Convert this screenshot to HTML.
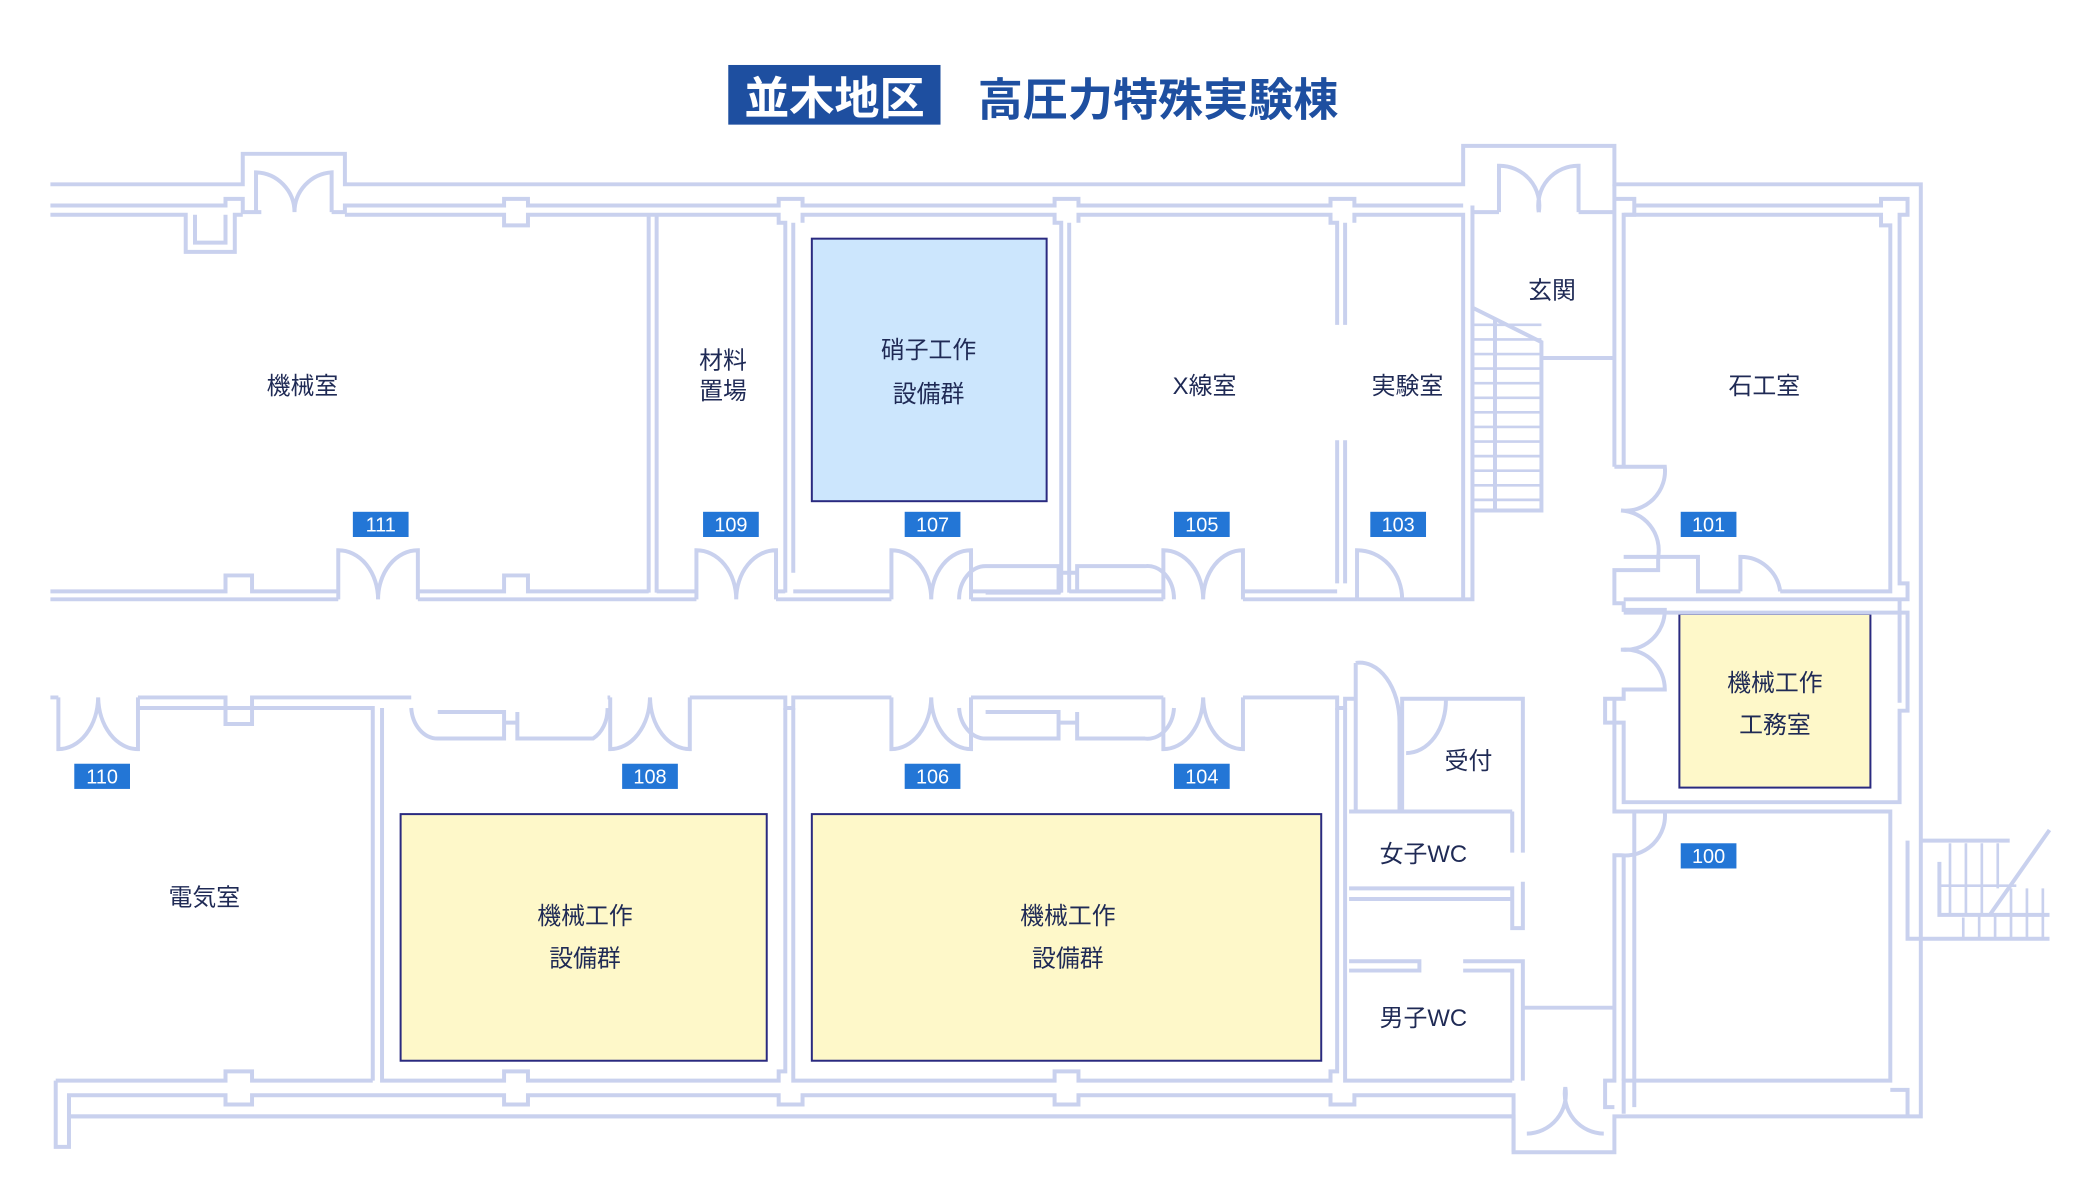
<!DOCTYPE html>
<html><head><meta charset="utf-8"><style>
html,body{margin:0;padding:0;background:#fff;}
svg{display:block}
.w{fill:none;stroke:#c9d1ee;stroke-width:3}
.t{font-family:"Liberation Sans","Noto Sans CJK JP",sans-serif;font-size:18px;fill:#1f2a55;text-anchor:middle}
.n{font-family:"Liberation Sans","Noto Sans CJK JP",sans-serif;font-size:15px;fill:#fff;text-anchor:middle}
</style></head><body>
<svg width="2080" height="1192" viewBox="0 0 1568 899" preserveAspectRatio="none" xmlns="http://www.w3.org/2000/svg">
<rect x="549" y="49" width="160" height="45" fill="#1e4fa0"/>
<text x="629" y="86" font-family="'Liberation Sans','Noto Sans CJK JP',sans-serif" font-weight="bold" font-size="34" fill="#fff" text-anchor="middle">並木地区</text>
<text x="873" y="87" font-family="'Liberation Sans','Noto Sans CJK JP',sans-serif" font-weight="bold" font-size="34" fill="#1e4fa0" text-anchor="middle">高圧力特殊実験棟</text>

<rect x="612" y="180" width="177" height="198" fill="#cce6fd" stroke="#2a2a80" stroke-width="1.5"/>
<rect x="302" y="614" width="276" height="186" fill="#fef8c9" stroke="#2a2a80" stroke-width="1.5"/>
<rect x="612" y="614" width="384" height="186" fill="#fef8c9" stroke="#2a2a80" stroke-width="1.5"/>
<rect x="1266" y="463" width="144" height="131" fill="#fef8c9" stroke="#2a2a80" stroke-width="1.5"/>

<g class="w">
<path d="M38 139H183V116H260V139H1103V110H1217V139H1448V842H1217V869H1141V842H52"/>
<path d="M38 155H170V150H183V160H197M250 160H260V155H380V150H398V155H587V150H605V155H795V150H813V155H1003V150H1021V155H1103"/>
<path d="M38 162H140V190H177V162H183"/>
<path d="M147 162V183H170V162"/>
<path d="M260 162H380V170H398V162H587V168H592V447M605 168V162H795V168H800V447M813 168V162H1003V168H1008V245M1021 168V162H1103V452"/>
<path d="M489 162V447M495 162V447M598 168V432M806 168V447M1014 168V245M1014 332V440M1008 332V440"/>
<path d="M1110 155V452H1023M1217 150H1232V162H1224V352"/>
<path d="M1217 139V352M1232 155H1418V150H1438V162H1432V440H1438V452H1224"/>
<path d="M1224 162H1418V170H1425V446H1342M1312 446H1280V420H1224"/>
<path d="M193 160V130 A30 30 0 0 1 222 160M250 160V130 A30 30 0 0 0 222 160"/>
<path d="M1130 160V125A30 30 0 0 1 1160 160M1190 160V125A30 30 0 0 0 1160 160M1110 160H1130M1190 160H1217"/>
<path d="M1110 232L1162 258V385H1110"/>
<path d="M1127 240V385M1162 270H1217"/>
<g stroke-width="2">
<path d="M1110 245H1162M1110 256H1162M1110 267H1162M1110 278H1162M1110 289H1162M1110 300H1162M1110 311H1162M1110 322H1162M1110 333H1162M1110 344H1162M1110 355H1162M1110 366H1162M1110 377H1162"/>
</g>
<path d="M38 446H170V434H190V446H255M315 446H380V434H398V446H489M495 446H525M585 446H592M598 446H672M732 446H800M806 446H877M937 446H1008"/>
<path d="M38 452H255M315 452H525M585 452H672M732 452H877M937 452H1023"/>
<path d="M255 452V415A30 37 0 0 1 285 452M315 452V415A30 37 0 0 0 285 452"/>
<path d="M525 452V415A30 37 0 0 1 555 452M585 452V415A30 37 0 0 0 555 452"/>
<path d="M672 452V415A30 37 0 0 1 702 452M732 452V415A30 37 0 0 0 702 452"/>
<path d="M877 452V415A30 37 0 0 1 907 452M937 452V415A30 37 0 0 0 907 452"/>
<path d="M1023 452V415A34 37 0 0 1 1057 452"/>
<path d="M723 452A20 25 0 0 1 743 427H798V447H743M812 447V427H863A20 25 0 0 1 885 452M798 432H812"/>
<path d="M1217 352H1255A30 30 0 0 1 1222 385A30 30 0 0 1 1250 420V430H1217V455H1224V460H1255A30 30 0 0 1 1222 490A30 30 0 0 1 1255 520H1224V527H1210V545H1224V605H1432V536H1438V462H1224"/>
<path d="M1432 452V530"/>
<path d="M1312 446V420A30 30 0 0 1 1342 446"/>
<path d="M1217 527V612H1255A30 30 0 0 1 1222 645H1217V815H1210V835H1217"/>
<path d="M1224 612H1425V815H1224V840M1232 612V835M1425 822H1438V842"/>
<path d="M1224 645V815"/>
<!-- right stairs -->
<path d="M1448 634H1515M1438 634V708H1545M1462 650V690H1545"/>
<path d="M1545 626L1500 690"/>
<g stroke-width="2"><path d="M1470 636V690M1482 636V690M1494 636V690M1506 636V670M1480 692V708M1492 690V708M1504 690V708M1516 670V708M1528 670V708M1540 670V708M1462 668H1520"/></g>
<path d="M38 526H44M104 526H170V534H190V526H310M458 526H460M520 526H592V534H598V526H672M732 526H877M937 526H1008V534H1014V527H1022"/>
<path d="M104 534H170V546H190V534H281V815M288 534V815H380V808H398V815H587V808H592V534M598 534V815H795V808H813V815H1003V808H1008V534M1014 534V815H1140"/>
<path d="M44 526V565A30 40 0 0 0 74 526M104 526V565A30 40 0 0 1 74 526"/>
<path d="M460 526V565A30 40 0 0 0 490 526M520 526V565A30 40 0 0 1 490 526"/>
<path d="M672 526V565A30 40 0 0 0 702 526M732 526V565A30 40 0 0 1 702 526"/>
<path d="M877 526V565A30 40 0 0 0 907 526M937 526V565A30 40 0 0 1 907 526"/>
<path d="M310 534A20 25 0 0 0 330 557H380V537H330M390 537V557H447A20 25 0 0 0 458 534M380 545H390"/>
<path d="M723 534A20 25 0 0 0 743 557H798V537H743M812 537V557H863A20 25 0 0 0 885 534M798 545H812"/>
<path d="M42 815H170V808H190V815H281M42 815V865H52V826H170V833H190V826H380V833H398V826H587V833H605V826H795V833H813V826H1003V833H1021V826H1141V842"/>
<path d="M52 842V826M52 842H1141"/>
<path d="M1141 842V869M1151 855A30 30 0 0 0 1180 820A30 30 0 0 0 1209 855"/>
<path d="M1022 500V612M1022 500A30 45 0 0 1 1055 545V612H1057M1057 612V527H1090A30 40 0 0 1 1060 568M1090 527H1148V643M1140 612V643"/>
<path d="M1017 612H1140M1017 670H1140V700H1148V665M1017 678H1140"/>
<path d="M1017 725H1070V732H1017M1103 725H1148V815M1103 732H1140V815M1148 760H1217"/>
</g>

<g>
<rect x="266" y="386" width="42" height="19" fill="#2376d6"/><text class="n" x="287" y="401">111</text>
<rect x="530" y="386" width="42" height="19" fill="#2376d6"/><text class="n" x="551" y="401">109</text>
<rect x="682" y="386" width="42" height="19" fill="#2376d6"/><text class="n" x="703" y="401">107</text>
<rect x="885" y="386" width="42" height="19" fill="#2376d6"/><text class="n" x="906" y="401">105</text>
<rect x="1033" y="386" width="42" height="19" fill="#2376d6"/><text class="n" x="1054" y="401">103</text>
<rect x="1267" y="386" width="42" height="19" fill="#2376d6"/><text class="n" x="1288" y="401">101</text>
<rect x="56" y="576" width="42" height="19" fill="#2376d6"/><text class="n" x="77" y="591">110</text>
<rect x="469" y="576" width="42" height="19" fill="#2376d6"/><text class="n" x="490" y="591">108</text>
<rect x="682" y="576" width="42" height="19" fill="#2376d6"/><text class="n" x="703" y="591">106</text>
<rect x="885" y="576" width="42" height="19" fill="#2376d6"/><text class="n" x="906" y="591">104</text>
<rect x="1267" y="636" width="42" height="19" fill="#2376d6"/><text class="n" x="1288" y="651">100</text>
</g>
<g>
<text class="t" x="228" y="297">機械室</text>
<text class="t" x="545" y="278">材料</text><text class="t" x="545" y="301">置場</text>
<text class="t" x="700" y="270">硝子工作</text><text class="t" x="700" y="303">設備群</text>
<text class="t" x="908" y="297">X線室</text>
<text class="t" x="1061" y="297">実験室</text>
<text class="t" x="1170" y="225">玄関</text>
<text class="t" x="1330" y="297">石工室</text>
<text class="t" x="1338" y="521">機械工作</text><text class="t" x="1338" y="553">工務室</text>
<text class="t" x="1107" y="580">受付</text>
<text class="t" x="1073" y="650">女子WC</text>
<text class="t" x="1073" y="774">男子WC</text>
<text class="t" x="154" y="683">電気室</text>
<text class="t" x="441" y="697">機械工作</text><text class="t" x="441" y="729">設備群</text>
<text class="t" x="805" y="697">機械工作</text><text class="t" x="805" y="729">設備群</text>
</g>
</svg>
</body></html>
